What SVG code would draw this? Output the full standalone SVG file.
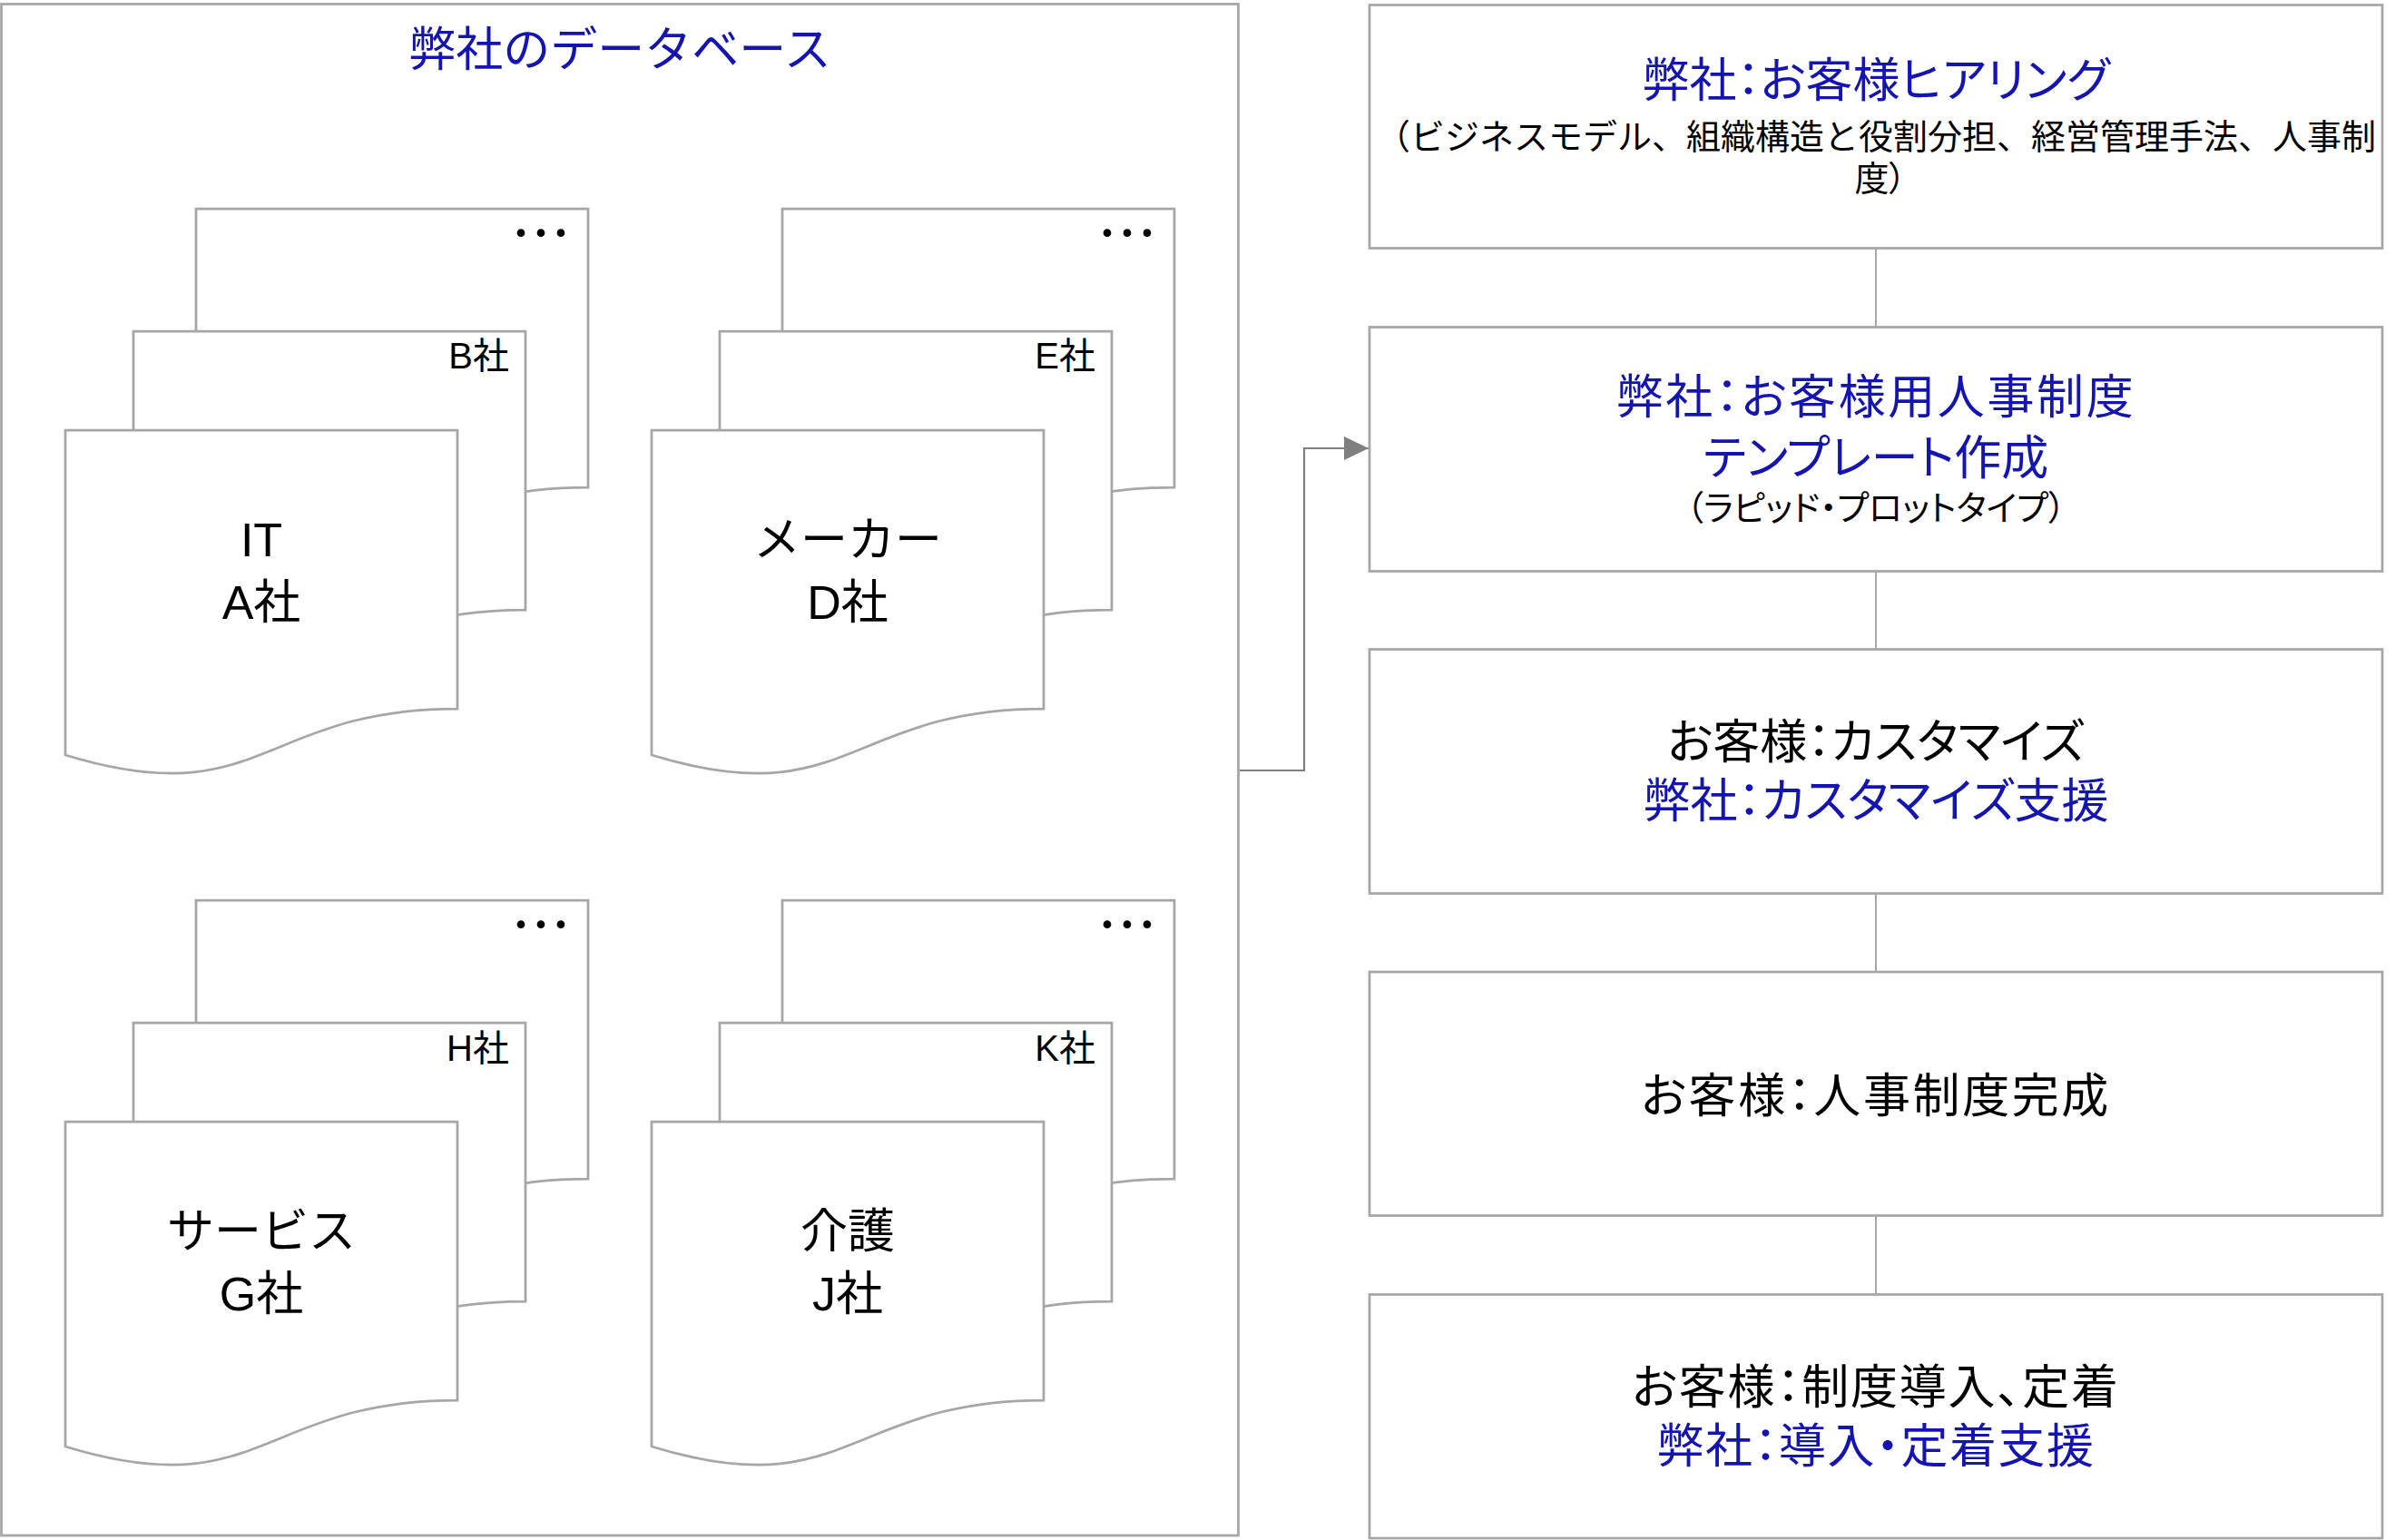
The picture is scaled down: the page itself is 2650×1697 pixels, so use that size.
<svg xmlns="http://www.w3.org/2000/svg" width="2650" height="1697" viewBox="0 0 2650 1697">
<style>
.frame{fill:#fff;stroke:#A6A6A6;stroke-width:2.75}
.page{fill:#fff;stroke:#A6A6A6;stroke-width:2.75}
.box{fill:#fff;stroke:#A6A6A6;stroke-width:2.75}
.link{fill:none;stroke:#A6A6A6;stroke-width:2}
.arrow{fill:none;stroke:#7F7F7F;stroke-width:2.2}
text{font-family:'Liberation Sans','Noto Sans CJK JP',sans-serif}
.blue{fill:#1414B0}
.blk{fill:#000}
.mid{text-anchor:middle}
.end{text-anchor:end}
.big{font-size:52px}
.sub{font-size:38px}
.lab{font-size:52px}
.sm{font-size:40px}
.dots{font-size:66px;font-family:'Noto Sans CJK JP',sans-serif}
.palt{font-feature-settings:"palt"}
</style>
<defs>
<path id="doc" d="M0,0 H432 V307 C216,307 216,424 0,358 Z"/>
<marker id="ah" markerUnits="userSpaceOnUse" markerWidth="28" markerHeight="27" refX="27" refY="13" orient="auto">
<path d="M0,0 L27,13 L0,26 Z" fill="#7F7F7F"/>
</marker>
</defs>
<rect width="2650" height="1697" fill="#fff"/>

<g id="database">
<rect class="frame" x="1.5" y="4.5" width="1363" height="1687.5"/>
<text class="blue mid" x="683" y="73" style="font-size:52px">弊社のデータベース</text>
</g>

<g id="stack-it">
<g id="page-c"><use href="#doc" class="page" x="216" y="230"/><text class="blk dots" x="563" y="282">…</text></g>
<g id="page-b"><use href="#doc" class="page" x="147" y="365"/><text class="blk sm end" x="561" y="406">B社</text></g>
<g id="page-a"><use href="#doc" class="page" x="72" y="474"/><text class="blk lab mid" x="288" y="613">IT<tspan x="288" dy="69">A社</tspan></text></g>
</g>

<g id="stack-maker">
<g id="page-f"><use href="#doc" class="page" x="862" y="230"/><text class="blk dots" x="1209" y="282">…</text></g>
<g id="page-e"><use href="#doc" class="page" x="793" y="365"/><text class="blk sm end" x="1207" y="406">E社</text></g>
<g id="page-d"><use href="#doc" class="page" x="718" y="474"/><text class="blk lab mid" x="934" y="613">メーカー<tspan x="934" dy="69">D社</tspan></text></g>
</g>

<g id="stack-service">
<g id="page-i"><use href="#doc" class="page" x="216" y="992"/><text class="blk dots" x="563" y="1044">…</text></g>
<g id="page-h"><use href="#doc" class="page" x="147" y="1127"/><text class="blk sm end" x="561" y="1169">H社</text></g>
<g id="page-g"><use href="#doc" class="page" x="72" y="1236"/><text class="blk lab mid" x="288" y="1375">サービス<tspan x="288" dy="69">G社</tspan></text></g>
</g>

<g id="stack-care">
<g id="page-l"><use href="#doc" class="page" x="862" y="992"/><text class="blk dots" x="1209" y="1044">…</text></g>
<g id="page-k"><use href="#doc" class="page" x="793" y="1127"/><text class="blk sm end" x="1207" y="1169">K社</text></g>
<g id="page-j"><use href="#doc" class="page" x="718" y="1236"/><text class="blk lab mid" x="934" y="1375">介護<tspan x="934" dy="69">J社</tspan></text></g>
</g>

<g id="connectors">
<path class="arrow" d="M1366,849 H1437 V494 H1508" marker-end="url(#ah)"/>
<path class="link" d="M2067,274 V360.5"/>
<path class="link" d="M2067,629.5 V715.5"/>
<path class="link" d="M2067,984.5 V1071"/>
<path class="link" d="M2067,1339.5 V1426.5"/>
</g>

<g id="step1">
<rect class="box" x="1509" y="5.5" width="1116" height="268"/>
<text class="mid" x="2067" y="107"><tspan class="blue big palt">弊社：お客様ヒアリング</tspan><tspan class="blk sub" x="2067" dy="57">（ビジネスモデル、組織構造と役割分担、経営管理手法、人事制</tspan><tspan class="blk sub palt" x="2072" dy="46">度）</tspan></text>
</g>

<g id="step2">
<rect class="box" x="1509" y="360.5" width="1116" height="269"/>
<text class="mid" x="2067" y="456"><tspan class="blue big palt" style="letter-spacing:2.6px">弊社：お客様用人事制度</tspan><tspan class="blue big palt" x="2067" dy="67">テンプレート作成</tspan><tspan class="blk sub palt" x="2067" dy="50">（ラピッド・プロットタイプ）</tspan></text>
</g>

<g id="step3">
<rect class="box" x="1509" y="715.5" width="1116" height="269"/>
<text class="mid big palt" x="2067" y="836"><tspan class="blk">お客様：カスタマイズ</tspan><tspan class="blue" x="2067" dy="65">弊社：カスタマイズ支援</tspan></text>
</g>

<g id="step4">
<rect class="box" x="1509" y="1071" width="1116" height="268.5"/>
<text class="blk big mid palt" x="2067" y="1226" style="letter-spacing:2.6px">お客様：人事制度完成</text>
</g>

<g id="step5">
<rect class="box" x="1509" y="1426.5" width="1116" height="268.5"/>
<text class="mid big palt" x="2067" y="1547"><tspan class="blk" style="letter-spacing:1.8px">お客様：制度導入、定着</tspan><tspan class="blue" x="2067" dy="65" style="letter-spacing:1.5px">弊社：導入・定着支援</tspan></text>
</g>
</svg>
